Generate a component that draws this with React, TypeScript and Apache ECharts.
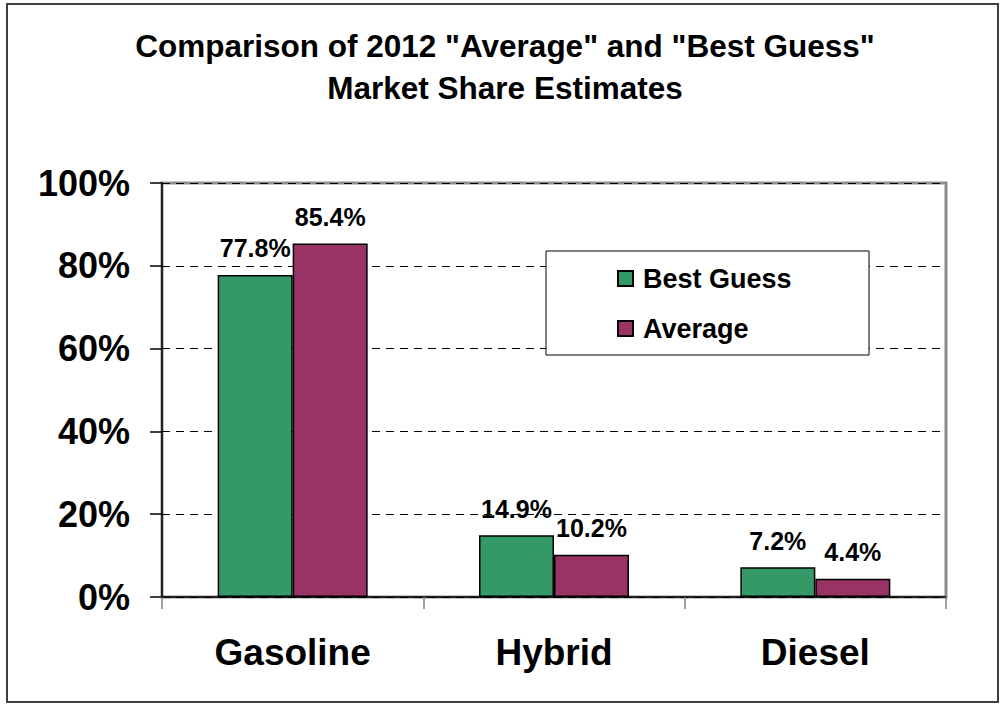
import React, { useEffect, useRef } from "react";
import * as echarts from "echarts";

const categories = ["Gasoline", "Hybrid", "Diesel"];
const bestGuess = [77.8, 14.9, 7.2];
const average = [85.4, 10.2, 4.4];
const seriesNames = ["Best Guess", "Average"];
const titleLines = ['Comparison of 2012 "Average" and "Best Guess"', "Market Share Estimates"];

const FONT = "'Liberation Sans', Arial, sans-serif";

export default function App() {
  const ref = useRef<HTMLDivElement>(null);
  useEffect(() => {
    if (!ref.current) return;
    const chart = echarts.init(ref.current, null, { renderer: "svg" });
    const labelCfg = {
      show: true,
      position: "top",
      distance: 14,
      formatter: (p: any) => p.value.toFixed(1) + "%",
      color: "#000",
      fontFamily: FONT,
      fontWeight: "bold",
      fontSize: 25,
    };
    chart.setOption({
      animation: false,
      backgroundColor: "#fff",
      title: {
        text: titleLines.join("\n"),
        left: 505,
        top: 25,
        padding: 0,
        textAlign: "center",
        textStyle: {
          fontFamily: FONT,
          fontWeight: "bold",
          fontSize: 31.5,
          lineHeight: 42,
          color: "#000",
        },
      },
      graphic: [
        {
          type: "rect",
          z: 100,
          silent: true,
          shape: { x: 7, y: 4, width: 991, height: 698 },
          style: { fill: "none", stroke: "#404040", lineWidth: 2 },
        },
        {
          type: "rect",
          z: 50,
          silent: true,
          shape: { x: 546, y: 251, width: 323, height: 104 },
          style: { fill: "#fff", stroke: "#000", lineWidth: 1 },
        },
      ],
      legend: {
        orient: "vertical",
        left: 546,
        top: 251,
        z: 60,
        padding: [14, 10, 14, 71],
        itemGap: 23,
        itemWidth: 15,
        itemHeight: 15,
        icon: "rect",
        data: seriesNames,
        textStyle: {
          fontFamily: FONT,
          fontWeight: "bold",
          fontSize: 27,
          color: "#000",
          padding: [0, 0, 0, 5],
        },
      },
      grid: {
        left: 162,
        right: 55,
        top: 183,
        bottom: 107,
        show: true,
        borderColor: "#8c8c8c",
        borderWidth: 3,
      },
      xAxis: {
        type: "category",
        data: categories,
        axisLine: { show: true, lineStyle: { color: "#000", width: 1.5 } },
        axisTick: { show: true, length: 12, lineStyle: { color: "#808080", width: 1.5 } },
        axisLabel: {
          margin: 37,
          fontFamily: FONT,
          fontWeight: "bold",
          fontSize: 37,
          color: "#000",
        },
      },
      yAxis: {
        type: "value",
        min: 0,
        max: 100,
        interval: 20,
        axisLine: { show: true, lineStyle: { color: "#000", width: 1.5 } },
        axisTick: { show: true, length: 12, lineStyle: { color: "#000", width: 1.5 } },
        axisLabel: {
          margin: 32,
          formatter: "{value}%",
          fontFamily: FONT,
          fontWeight: "bold",
          fontSize: 36,
          color: "#000",
        },
        splitLine: {
          show: true,
          lineStyle: { color: "#000", width: 1, type: [8, 6] },
        },
      },
      series: [
        {
          name: seriesNames[0],
          type: "bar",
          data: bestGuess,
          barWidth: 75,
          barGap: "0%",
          itemStyle: { color: "#339966", borderColor: "#000", borderWidth: 1.5 },
          label: labelCfg,
        },
        {
          name: seriesNames[1],
          type: "bar",
          data: average,
          barWidth: 75,
          barGap: "0%",
          itemStyle: { color: "#993366", borderColor: "#000", borderWidth: 1.5 },
          label: labelCfg,
        },
      ],
    });
    return () => chart.dispose();
  }, []);
  return (
    <div
      ref={ref}
      style={{ position: "fixed", left: 0, top: 0, width: 1001, height: 704 }}
    />
  );
}
